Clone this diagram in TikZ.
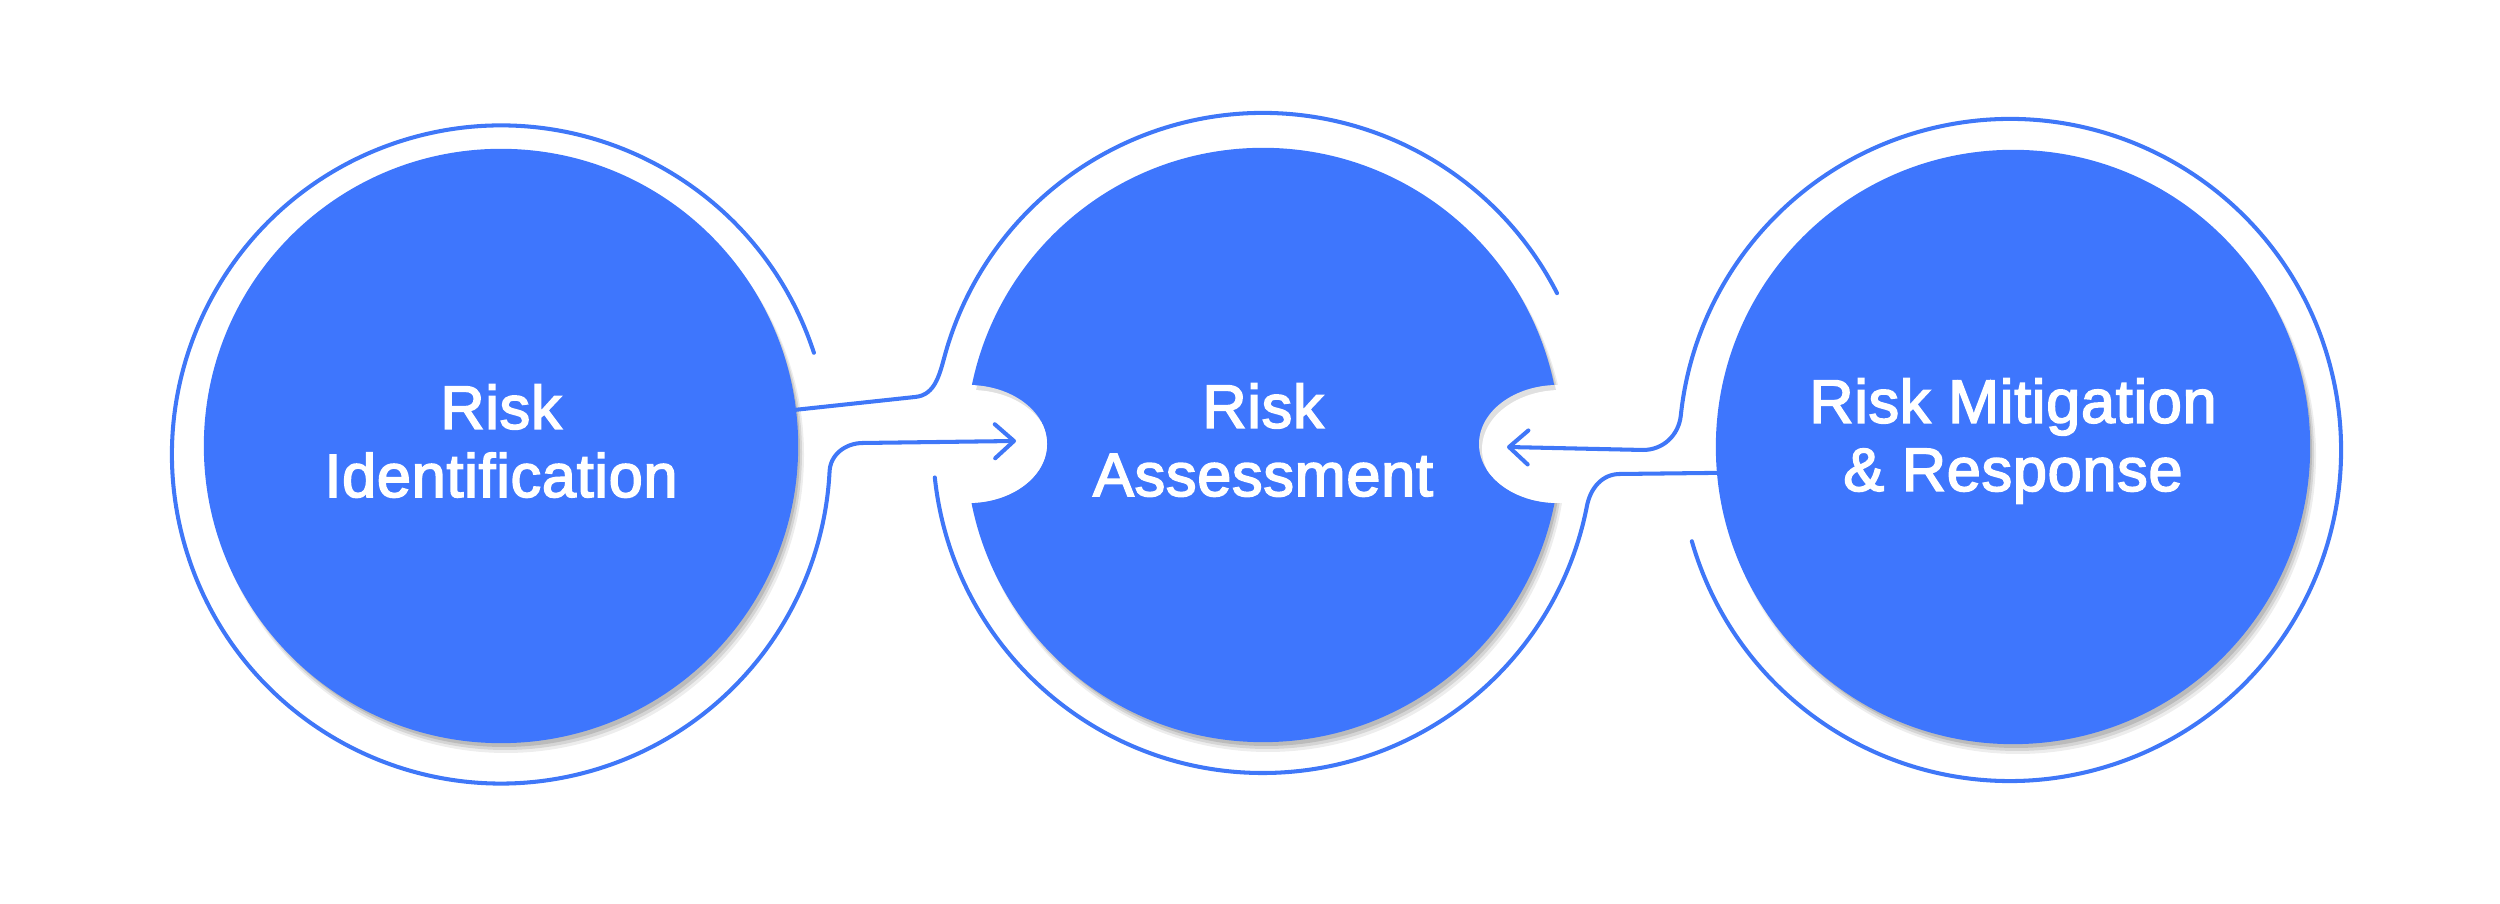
\documentclass[tikz,border=0pt]{standalone}
\usepackage{fontspec}
\newfontfamily\lblfont{Liberation Sans}[FakeBold=2.7,LetterSpace=1.2]
\usetikzlibrary{arrows.meta,calc}
\definecolor{fillblue}{HTML}{3E76FD}
\definecolor{lineblue}{HTML}{3F77F8}
\begin{document}
\begin{tikzpicture}[x=0.01cm,y=0.01cm,
  stage/.style={circle, fill=fillblue, minimum size=5.94cm, inner sep=0pt, outer sep=0pt},
  lbltext/.style={text=white, align=center, inner sep=0pt, font=\lblfont\fontsize{17.4}{19.4}\selectfont},
  ringline/.style={draw=lineblue, line width=1.15pt, line cap=round},
  arrowtip/.style={-{Straight Barb[length=0.19cm,width=0.34cm,round]}},
  shadowlayer/.style={fill=black, opacity=#1},
]
\useasboundingbox (0,0) rectangle (2500,904);

% centres
\coordinate (lc) at (501,458);
\coordinate (mc) at (1263,459);
\coordinate (rc) at (2013,457);
\coordinate (lr) at (501,449.5);
\coordinate (mr) at (1263,461);
\coordinate (rr) at (2010,454);
\coordinate (nl) at (968,460);
\coordinate (nr) at (1558,460);
\coordinate (a1) at (1016,463);
\coordinate (a2) at (1507,457);

% shadows
\foreach \p in {lc,mc,rc}{
  \fill[shadowlayer=0.07] ($(\p)+(5,-9)$) circle[radius=298];
  \fill[shadowlayer=0.10] ($(\p)+(4,-7)$) circle[radius=297];
  \fill[shadowlayer=0.12] ($(\p)+(3,-5)$) circle[radius=296];
}

% filled stages
\node[stage] (ident) at (lc) {};
\node[stage] (assess) at (mc) {};
\node[stage] (mitig) at (rc) {};

% notches in the middle circle
\foreach \n in {nl,nr}{
  \fill[white] (\n) ellipse[x radius=79, y radius=59];
  \begin{scope}
    \clip (\n) ellipse[x radius=79, y radius=59];
    \fill[shadowlayer=0.12] ($(mc)+(3,-5)$) circle[radius=296];
    \fill[white] ($(\n)+(3,-5)$) ellipse[x radius=79, y radius=59];
  \end{scope}
}

% rings and connectors
\draw[ringline, arrowtip] ($(lr)+(18:329)$) arc[start angle=18, end angle=357, radius=329]
   to[out=88, in=180] (863,461) -- (a1);
\draw[ringline] (ident.7.5) -- (915,507) to[out=5, in=254] ($(mr)+(164:330)$)
   arc[start angle=164, end angle=27, radius=330];
\draw[ringline] ($(mr)+(186:330)$) arc[start angle=186, end angle=349, radius=330]
   to[out=79, in=180] (1620,430) -- (mitig.185);
\draw[ringline, arrowtip] ($(rr)+(196:331)$) arc[start angle=196, end angle=534, radius=331]
   to[out=264, in=0] (1643,454) -- (a2);

% labels
\node[lbltext] (t1) at (501,463) {Risk\\Identification};
\node[lbltext] (t2) at (1263,464) {Risk\\Assessment};
\node[lbltext] (t3) at (2013,463) {Risk Mitigation\\\& Response};
\end{tikzpicture}
\end{document}
